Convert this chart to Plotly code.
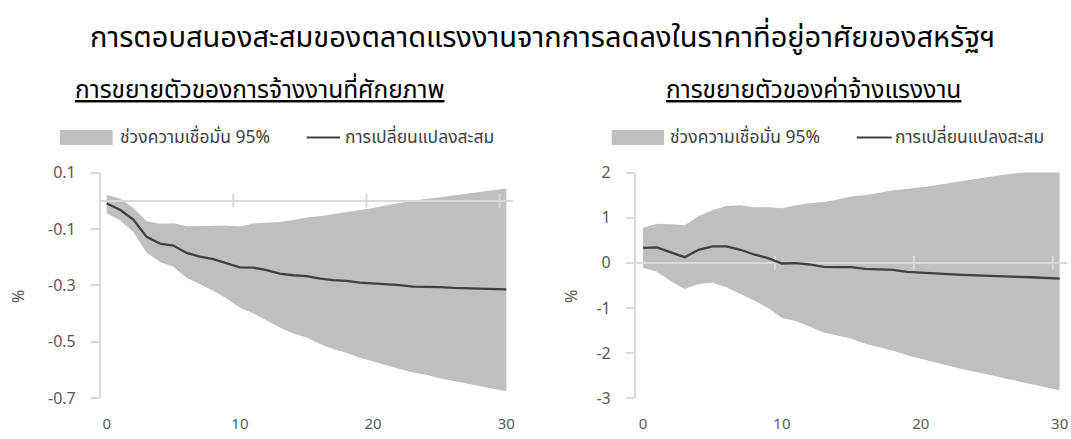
import plotly.graph_objects as go

# ---- data ---------------------------------------------------------------
periods = list(range(31))

# cumulative response of potential employment growth (%)
emp_mid = [-0.010, -0.032, -0.067, -0.128, -0.152, -0.159, -0.185, -0.198, -0.207, -0.221,
           -0.236, -0.237, -0.246, -0.258, -0.264, -0.267, -0.276, -0.281, -0.284, -0.290,
           -0.293, -0.295, -0.299, -0.304, -0.304, -0.306, -0.309, -0.310, -0.311, -0.312,
           -0.314]
emp_hi = [0.021, 0.007, -0.026, -0.073, -0.082, -0.080, -0.090, -0.090, -0.088, -0.088,
          -0.091, -0.081, -0.078, -0.075, -0.068, -0.059, -0.055, -0.048, -0.041, -0.034,
          -0.026, -0.016, -0.007, 0.000, 0.006, 0.012, 0.018, 0.024, 0.029, 0.035,
          0.043]
emp_lo = [-0.044, -0.069, -0.111, -0.184, -0.217, -0.234, -0.273, -0.297, -0.319, -0.346,
          -0.379, -0.399, -0.423, -0.449, -0.470, -0.485, -0.508, -0.525, -0.539, -0.556,
          -0.570, -0.582, -0.596, -0.609, -0.617, -0.629, -0.638, -0.648, -0.657, -0.667,
          -0.675]

# cumulative response of wage growth (%)
wage_mid = [0.333, 0.340, 0.230, 0.126, 0.289, 0.363, 0.363, 0.289, 0.185, 0.104,
            -0.015, -0.007, -0.037, -0.089, -0.096, -0.096, -0.133, -0.141, -0.156, -0.200,
            -0.222, -0.230, -0.252, -0.267, -0.281, -0.289, -0.304, -0.311, -0.319, -0.333,
            -0.348]
wage_hi = [0.778, 0.867, 0.852, 0.830, 1.037, 1.163, 1.259, 1.274, 1.230, 1.230,
           1.207, 1.274, 1.319, 1.348, 1.400, 1.467, 1.496, 1.548, 1.607, 1.637,
           1.667, 1.711, 1.763, 1.815, 1.859, 1.904, 1.948, 1.993, 2.040, 2.080,
           2.120]
wage_lo = [-0.111, -0.200, -0.407, -0.578, -0.467, -0.444, -0.541, -0.681, -0.837, -1.000,
           -1.222, -1.289, -1.407, -1.541, -1.607, -1.681, -1.793, -1.867, -1.948, -2.044,
           -2.126, -2.193, -2.274, -2.356, -2.415, -2.489, -2.556, -2.622, -2.689, -2.756,
           -2.822]

emp_ticks = [0.1, -0.1, -0.3, -0.5, -0.7]
emp_tick_text = ["0.1", "-0.1", "-0.3", "-0.5", "-0.7"]
wage_ticks = [2, 1, 0, -1, -2, -3]
wage_tick_text = ["2", "1", "0", "-1", "-2", "-3"]
x_ticks = [0, 10, 20, 30]
x_tick_text = ["0", "10", "20", "30"]

title_text = "การตอบสนองสะสมของตลาดแรงงานจากการลดลงในราคาที่อยู่อาศัยของสหรัฐฯ"
left_title = "การขยายตัวของการจ้างงานที่ศักยภาพ"
right_title = "การขยายตัวของค่าจ้างแรงงาน"
band_name = "ช่วงความเชื่อมั่น 95%"
line_name = "การเปลี่ยนแปลงสะสม"

# ---- style ----------------------------------------------------------------
W, H = 1071, 439
FONT = "Noto Sans Thai, Leelawadee UI, Tahoma, Noto Sans, sans-serif"
BAND = "#bfbfbf"
LINE = "#404040"
AXIS = "#d9d9d9"
TICKTXT = "#595959"
# cross marks on the zero line sit between categories
cross_ticks = [9.5, 19.5, 29.5]


def px(x):
    return x / W


def py(y):
    return 1 - y / H


Y_DOM = [py(398.3), py(172.5)]
LEFT_DOM = [px(100.7), px(513.0)]
RIGHT_DOM = [px(635.7), px(1066.6)]
LEFT_XR = [-0.45, 30.5]
RIGHT_XR = [-0.53, 30.5]

fig = go.Figure()

# confidence bands (drawn on the lower subplots)
for lo, hi, xa, ya in [(emp_lo, emp_hi, "x", "y"), (wage_lo, wage_hi, "x2", "y2")]:
    fig.add_trace(go.Scatter(x=periods, y=lo, mode="lines", line=dict(width=0),
                             xaxis=xa, yaxis=ya, showlegend=False, hoverinfo="skip"))
    fig.add_trace(go.Scatter(x=periods, y=hi, mode="lines", line=dict(width=0),
                             fill="tonexty", fillcolor=BAND, xaxis=xa, yaxis=ya,
                             showlegend=False, name=band_name))

# cumulative change lines (upper subplots, above the zero line)
for mid, xa, ya in [(emp_mid, "x3", "y3"), (wage_mid, "x4", "y4")]:
    fig.add_trace(go.Scatter(x=periods, y=mid, mode="lines",
                             line=dict(color=LINE, width=2.3),
                             xaxis=xa, yaxis=ya, showlegend=False, name=line_name))

hidden = dict(visible=False, fixedrange=True, automargin=False)
tickfont = dict(family=FONT, size=16, color=TICKTXT)


def xaxis_visible(dom, rng, anchor):
    return dict(domain=dom, range=rng, anchor=anchor, tickmode="array",
                tickvals=x_ticks, ticktext=x_tick_text, showline=False, ticks="",
                showgrid=False, zeroline=False,
                tickfont=dict(family=FONT, size=15, color=TICKTXT),
                ticklabelstandoff=15, automargin=False)


def yaxis_visible(rng, anchor, vals, text):
    return dict(domain=Y_DOM, range=rng, anchor=anchor, tickmode="array",
                tickvals=vals, ticktext=text, showline=True, linecolor=AXIS,
                linewidth=1.5, ticks="outside", ticklen=8, tickcolor=AXIS,
                tickwidth=1.5, showgrid=False, zeroline=True, zerolinecolor=AXIS,
                zerolinewidth=2.2, tickfont=tickfont, ticklabelstandoff=12,
                automargin=False)


fig.update_layout(
    width=W, height=H, margin=dict(l=0, r=0, t=0, b=0, autoexpand=False),
    paper_bgcolor="white", plot_bgcolor="rgba(0,0,0,0)",
    showlegend=False,
    xaxis=dict(domain=LEFT_DOM, range=LEFT_XR, anchor="y", **hidden),
    yaxis=dict(domain=Y_DOM, range=[-0.7, 0.1], anchor="x", **hidden),
    xaxis2=dict(domain=RIGHT_DOM, range=RIGHT_XR, anchor="y2", **hidden),
    yaxis2=dict(domain=Y_DOM, range=[-3, 2], anchor="x2", **hidden),
    xaxis3=xaxis_visible(LEFT_DOM, LEFT_XR, "y3"),
    yaxis3=yaxis_visible([-0.7, 0.1], "x3", emp_ticks, emp_tick_text),
    xaxis4=xaxis_visible(RIGHT_DOM, RIGHT_XR, "y4"),
    yaxis4=yaxis_visible([-3, 2], "x4", wage_ticks, wage_tick_text),
)

# cross marks on the zero line
for xa, ya in [("x3", "y3"), ("x4", "y4")]:
    for cx in cross_ticks:
        fig.add_shape(type="line", xref=xa, yref=ya, x0=cx, x1=cx,
                      ysizemode="pixel", yanchor=0, y0=-7, y1=7,
                      line=dict(color=AXIS, width=2), layer="between")

# titles
fig.add_annotation(text=title_text, x=px(542), y=py(38), xref="paper", yref="paper",
                   showarrow=False, xanchor="center", yanchor="middle",
                   font=dict(family=FONT, size=29, color="#000000", weight=400))
for txt, cx in [(left_title, 259), (right_title, 813)]:
    fig.add_annotation(text="<u>" + txt + "</u>", x=px(cx), y=py(90), xref="paper",
                       yref="paper", showarrow=False, xanchor="center", yanchor="middle",
                       font=dict(family=FONT, size=24.5, color="#000000", weight=400))

# "%" axis titles
for cx in [19, 572]:
    fig.add_annotation(text="%", x=px(cx), y=py(297), xref="paper", yref="paper",
                       showarrow=False, textangle=-90, xanchor="center", yanchor="middle",
                       font=dict(family=FONT, size=16, color=TICKTXT))

# legends
legend_font = dict(family=FONT, size=17.5, color=LINE)
for box_x0, box_x1, t1_x, ln_x0, ln_x1, t2_x in [(60, 112.7, 118, 306.7, 340, 343),
                                                   (611.7, 664, 668, 856.7, 891.7, 893)]:
    fig.add_shape(type="rect", xref="paper", yref="paper", x0=px(box_x0), x1=px(box_x1),
                  y0=py(145), y1=py(130), fillcolor=BAND, line=dict(width=0))
    fig.add_shape(type="line", xref="paper", yref="paper", x0=px(ln_x0), x1=px(ln_x1),
                  y0=py(137.5), y1=py(137.5), line=dict(color=LINE, width=2))
    fig.add_annotation(text=band_name, x=px(t1_x), y=py(137.5), xref="paper", yref="paper",
                       showarrow=False, xanchor="left", yanchor="middle", font=legend_font)
    fig.add_annotation(text=line_name, x=px(t2_x), y=py(137.5), xref="paper", yref="paper",
                       showarrow=False, xanchor="left", yanchor="middle", font=legend_font)

fig.write_html("out.html")
